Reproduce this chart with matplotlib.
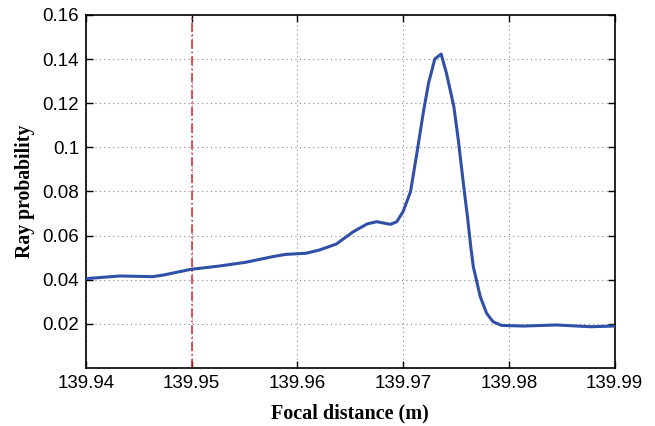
import numpy as np
import matplotlib.pyplot as plt

# values
focal = [139.9400, 139.9432, 139.9463, 139.9473, 139.9499, 139.9526, 139.9551,
         139.9577, 139.9589, 139.9608, 139.9621, 139.9637, 139.9642, 139.9653,
         139.9666, 139.9675, 139.9688, 139.9694, 139.9700, 139.9707, 139.9713,
         139.9719, 139.9724, 139.9730, 139.9736, 139.9741, 139.9748, 139.97522,
         139.97570, 139.97610, 139.97640, 139.97664, 139.9773, 139.9779, 139.9785,
         139.9793, 139.9814, 139.9845, 139.9877, 139.9900]
prob = [0.0405, 0.0417, 0.0414, 0.0421, 0.0447, 0.0462, 0.0479,
        0.0505, 0.0515, 0.0520, 0.0535, 0.0562, 0.0580, 0.0618,
        0.0653, 0.0663, 0.0651, 0.0663, 0.0709, 0.0799, 0.0973,
        0.1155, 0.1290, 0.1401, 0.1423, 0.1336, 0.1185, 0.1034,
        0.0837, 0.0680, 0.0550, 0.0459, 0.0323, 0.0248, 0.0210,
        0.0193, 0.0190, 0.0195, 0.0187, 0.0190]
marker_x = 139.95

xticks = [139.94, 139.95, 139.96, 139.97, 139.98, 139.99]
yticks = [0.02, 0.04, 0.06, 0.08, 0.1, 0.12, 0.14, 0.16]
ytick_labels = ['0.02', '0.04', '0.06', '0.08', '0.1', '0.12', '0.14', '0.16']

fig = plt.figure(figsize=(6.55, 4.26), dpi=100)
ax = fig.add_axes([0.1313, 0.1362, 0.8069, 0.8286])

ax.plot(focal, prob, color='#3050a8', linewidth=2.2, zorder=3)
ax.axvline(marker_x, color='#e0202a', linestyle=(0, (6, 2, 1, 2)), linewidth=1.1, zorder=2)

ax.set_xlim(139.94, 139.99)
ax.set_ylim(0, 0.16)
ax.set_xticks(xticks)
ax.set_xticklabels([f'{t:.2f}' for t in xticks])
ax.set_yticks(yticks)
ax.set_yticklabels(ytick_labels)

ax.grid(True, linestyle=(0, (1, 3)), color='#888888', linewidth=0.8)
ax.tick_params(direction='in', top=True, right=True, length=5, width=1,
               labelsize=13.5, pad=5)
for lab in ax.get_xticklabels() + ax.get_yticklabels():
    lab.set_family('Liberation Sans')
for sp in ax.spines.values():
    sp.set_linewidth(1.2)

ax.set_xlabel('Focal distance (m)', family='Liberation Serif', fontweight='bold',
              fontsize=14.5, labelpad=8)
ax.set_ylabel('Ray probability', family='Liberation Serif', fontweight='bold',
              fontsize=14.2, labelpad=5)

plt.savefig('out.png', dpi=100)
plt.close()
